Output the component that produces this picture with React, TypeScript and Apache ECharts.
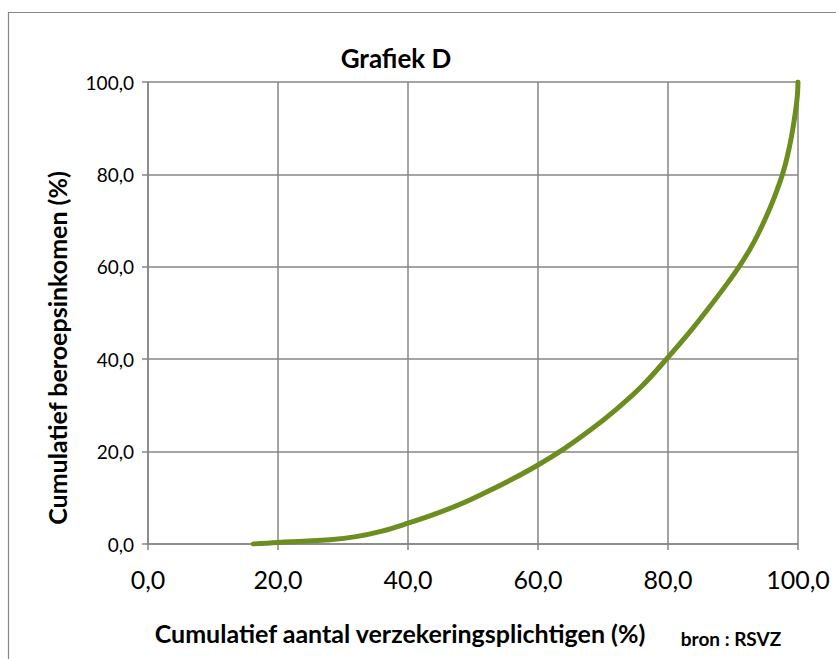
import React, { useEffect, useRef } from "react";
import * as echarts from "echarts";

const titleText = "Grafiek D";
const xAxisTitle = "Cumulatief aantal verzekeringsplichtigen (%)";
const yAxisTitle = "Cumulatief beroepsinkomen (%)";
const sourceText = "bron : RSVZ";

const cumPopulation = [16.2, 20, 24, 28, 32, 36, 40, 44, 48, 52, 56, 60, 64, 68, 72, 76, 80, 83, 86, 88.7, 91.2, 93.2, 95, 96.4, 97.7, 98.5, 99.1, 99.6, 99.9, 100];
const cumIncome = [0, 0.35, 0.6, 0.9, 1.6, 2.8, 4.5, 6.4, 8.6, 11.2, 14, 17.1, 20.6, 24.6, 29.1, 34.2, 40.4, 45.3, 50.6, 55.6, 60.6, 65.3, 70.5, 75.2, 80.4, 84.8, 89, 93.5, 97, 100];

const fmt = (v: number) => v.toFixed(1).replace(".", ",");

export default function App() {
  const ref = useRef<HTMLDivElement>(null);
  useEffect(() => {
    if (!ref.current) return;
    const chart = echarts.init(ref.current, null, { renderer: "svg" });
    const font = "Lato, 'Open Sans', sans-serif";
    chart.setOption({
      animation: false,
      backgroundColor: "#ffffff",
      graphic: [
        {
          type: "rect",
          shape: { x: 8.5, y: 12.5, width: 840, height: 660 },
          style: { fill: "none", stroke: "#868686", lineWidth: 1.2 },
          silent: true,
        },
        {
          type: "text",
          x: 396,
          y: 58,
          style: {
            text: titleText,
            fontFamily: font,
            fontWeight: "bold",
            fontSize: 26,
            fill: "#000",
            textAlign: "center",
            textVerticalAlign: "middle",
          },
        },
        {
          type: "text",
          x: 400,
          y: 633,
          style: {
            text: xAxisTitle,
            fontFamily: font,
            fontWeight: "bold",
            fontSize: 25,
            fill: "#000",
            textAlign: "center",
            textVerticalAlign: "middle",
          },
        },
        {
          type: "text",
          x: 57,
          y: 348,
          rotation: Math.PI / 2,
          style: {
            text: yAxisTitle,
            fontFamily: font,
            fontWeight: "bold",
            fontSize: 25,
            fill: "#000",
            textAlign: "center",
            textVerticalAlign: "middle",
          },
        },
        {
          type: "text",
          x: 731,
          y: 638,
          style: {
            text: sourceText,
            fontFamily: font,
            fontWeight: "bold",
            fontSize: 19,
            fill: "#000",
            textAlign: "center",
            textVerticalAlign: "middle",
          },
        },
      ],
      grid: { left: 148, right: 38, top: 82, bottom: 115, containLabel: false },
      xAxis: {
        type: "value",
        min: 0,
        max: 100,
        interval: 20,
        axisLine: { show: true, lineStyle: { color: "#868686", width: 1.5 } },
        axisTick: { show: true, length: 6, lineStyle: { color: "#868686", width: 1.5 } },
        splitLine: { show: true, lineStyle: { color: "#868686", width: 1.5 } },
        axisLabel: { formatter: fmt, fontFamily: font, fontSize: 25, color: "#000", margin: 22 },
      },
      yAxis: {
        type: "value",
        min: 0,
        max: 100,
        interval: 20,
        axisLine: { show: true, lineStyle: { color: "#868686", width: 1.5 } },
        axisTick: { show: true, length: 6, lineStyle: { color: "#868686", width: 1.5 } },
        splitLine: { show: true, lineStyle: { color: "#868686", width: 1.5 } },
        axisLabel: { formatter: fmt, fontFamily: font, fontSize: 19, color: "#000", margin: 14 },
      },
      series: [
        {
          type: "line",
          data: cumPopulation.map((x, i) => [x, cumIncome[i]]),
          smooth: 0.4,
          showSymbol: false,
          lineStyle: { color: "#6b8e1f", width: 5, cap: "round" },
        },
      ],
    });
    return () => chart.dispose();
  }, []);
  return <div ref={ref} style={{ width: 836, height: 659, position: "absolute", left: 0, top: 0 }} />;
}
